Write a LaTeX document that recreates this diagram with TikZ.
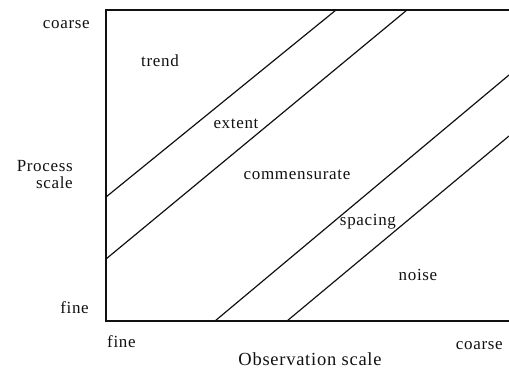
\documentclass[tikz,border=0pt]{standalone}
\usepackage{fontspec}
\setmainfont{Liberation Serif}[LetterSpace=4]
\usepackage{tikz}
\usetikzlibrary{positioning}
\definecolor{ScaleInk}{HTML}{111111}

\begin{document}
\begin{tikzpicture}[
      x={(1pt,0)},y={(0,-1pt)},
      frame/.style={draw=ScaleInk,line width=1.3pt},
      boundary/.style={draw=ScaleInk,line width=1.2pt},
      region/.style={font=\fontsize{17}{20}\selectfont,text=ScaleInk,inner sep=0pt},
      axislabel/.style={font=\fontsize{17}{20}\selectfont,text=ScaleInk,inner sep=0pt},
      axistitle/.style={font=\fontsize{18.5}{22}\selectfont,text=ScaleInk,inner sep=0pt}
    ]
    \useasboundingbox (0,0) rectangle (509,370);
    % plot frame, open at the right
    \draw[frame] (509,10) -- (106,10) -- (106,321) -- (509,321);

    % boundaries between the regions
    \coordinate (b1s) at (106,197);  \coordinate (b1e) at (336,10);
    \coordinate (b2s) at (106,259);  \coordinate (b2e) at (407,10);
    \coordinate (b3s) at (215,321);  \coordinate (b3e) at (509,75);
    \coordinate (b4s) at (287,321);  \coordinate (b4e) at (509,136);
    \draw[boundary] (b1s) -- (b1e);
    \draw[boundary] (b2s) -- (b2e);
    \draw[boundary] (b3s) -- (b3e);
    \draw[boundary] (b4s) -- (b4e);

    \node[region,anchor=base] (trend) at (160,66) {trend};
    \node[region,anchor=base] (extent) at (236,128) {extent};
    \node[region,anchor=base] (commens) at (297,179) {commensurate};
    \node[region,anchor=base] (spacing) at (368,225) {spacing};
    \node[region,anchor=base] (noise) at (418,280) {noise};

    \node[axislabel,anchor=base east] (ycoarse) at (90,28) {coarse};
    \node[axislabel,anchor=base east] (yproc) at (73,171) {Process};
    \node[axislabel,anchor=base east] (yscale) at (73,188) {scale};
    \node[axislabel,anchor=base east] (yfine) at (89,313) {fine};

    \node[axislabel,anchor=base west] (xfine) at (107,347) {fine};
    \node[axislabel,anchor=base east] (xcoarse) at (503,349) {coarse};
    \node[axistitle,anchor=base] (xtitle) at (310,365) {Observation scale};
  \end{tikzpicture}
\end{document}
